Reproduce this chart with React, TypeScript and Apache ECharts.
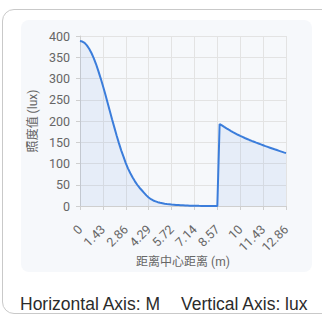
import React, { useEffect, useRef } from "react";
import * as echarts from "echarts";

// x positions (m): 91 evenly spaced samples from 0 to 12.86
const xMax = 12.86;
const sampleCount = 91;
const distances: string[] = Array.from({ length: sampleCount }, (_, i) =>
  String(Number(((i * xMax) / (sampleCount - 1)).toFixed(2)))
);

// illuminance (lux), one value per sample
const illuminance: number[] = [
  388, 387, 384, 378, 370, 360, 348, 334, 318, 301,
  283, 264, 244, 224, 204, 185, 166, 148, 131, 116,
  101, 88, 77, 67, 58, 50, 43, 37, 31, 25,
  20, 16, 13, 11, 9, 7.5, 6.5, 5.5, 4.8, 4.2,
  3.6, 3.1, 2.6, 2.2, 1.8, 1.5, 1.2, 1.0, 0.8, 0.6,
  0.5, 0.4, 0.3, 0.25, 0.2, 0.15, 0.1, 0.1, 0.05, 0.05,
  0, 193, 189.5, 186, 182.7, 179.5, 176.4, 173.4, 170.5, 167.6,
  165, 162.5, 160, 157.7, 155.4, 153.2, 151.1, 149, 147, 145,
  143, 141, 139.1, 137.2, 135.3, 133.4, 131.6, 129.8, 128, 126.2,
  124.5,
];

const yMin = 0;
const yMax = 400;
const yStep = 50;

const xAxisTitle = "距离中心距离 (m)";
const yAxisTitle = "照度值 (lux)";
const footerLeft = "Horizontal Axis: M";
const footerRight = "Vertical Axis: lux";

const FONT = 'Roboto, "Noto Sans CJK SC", sans-serif';

export default function App() {
  const ref = useRef<HTMLDivElement>(null);

  useEffect(() => {
    document.body.style.margin = "0";
    if (!ref.current) return;
    const chart = echarts.init(ref.current, undefined, { renderer: "svg" });
    chart.setOption({
      animation: false,
      backgroundColor: "transparent",
      grid: { left: 80, right: 36, top: 36, bottom: 110, containLabel: false },
      xAxis: {
        type: "category",
        data: distances,
        boundaryGap: false,
        name: xAxisTitle,
        nameLocation: "middle",
        nameGap: 50,
        nameMoveOverlap: false,
        nameTextStyle: { color: "#666", fontSize: 12, fontFamily: FONT },
        axisLine: { lineStyle: { color: "#cfcfcf" } },
        axisTick: { show: true, interval: 9, length: 4, lineStyle: { color: "#cfcfcf" } },
        axisLabel: {
          interval: 9,
          rotate: 45,
          color: "#666",
          fontSize: 12.5,
          fontFamily: FONT,
          margin: 21,
        },
        splitLine: { show: true, interval: 9, lineStyle: { color: "#e3e3e3" } },
      },
      yAxis: {
        type: "value",
        min: yMin,
        max: yMax,
        interval: yStep,
        name: yAxisTitle,
        nameLocation: "middle",
        nameGap: 41,
        nameRotate: 90,
        nameMoveOverlap: false,
        nameTextStyle: { color: "#666", fontSize: 12, fontFamily: FONT },
        axisLine: { show: true, lineStyle: { color: "#cfcfcf" } },
        axisTick: { show: true, length: 4, lineStyle: { color: "#cfcfcf" } },
        axisLabel: { color: "#666", fontSize: 12.5, fontFamily: FONT, margin: 10 },
        splitLine: { show: true, lineStyle: { color: "#e3e3e3" } },
      },
      series: [
        {
          type: "line",
          data: illuminance,
          showSymbol: false,
          symbol: "none",
          lineStyle: { color: "#3b7ddb", width: 2 },
          itemStyle: { color: "#3b7ddb" },
          areaStyle: { color: "rgba(59,125,219,0.12)" },
        },
      ],
    });
    return () => chart.dispose();
  }, []);

  return (
    <div
      style={{
        position: "fixed",
        left: 0,
        top: 0,
        width: 322,
        height: 316,
        overflow: "hidden",
        background: "#fff",
      }}
    >
      <div
        style={{
          position: "absolute",
          left: 2,
          top: 9,
          width: 340,
          height: 305,
          border: "1px solid #c9c9c9",
          borderRadius: 12,
          boxSizing: "border-box",
        }}
      />
      <div
        style={{
          position: "absolute",
          left: 21,
          top: 20,
          width: 291,
          height: 252,
          background: "#f6f8fb",
          borderRadius: 8,
        }}
      />
      <div
        ref={ref}
        style={{ position: "absolute", left: 0, top: 0, width: 322, height: 316 }}
      />
      <div
        style={{
          position: "absolute",
          left: 20,
          top: 294,
          whiteSpace: "nowrap",
          fontFamily: '"Liberation Sans", Arial, sans-serif',
          fontSize: 17.5,
          color: "#2b2b2b",
          lineHeight: "20px",
        }}
      >
        <span>{footerLeft}</span>
        <span style={{ marginLeft: 21 }}>{footerRight}</span>
      </div>
    </div>
  );
}
